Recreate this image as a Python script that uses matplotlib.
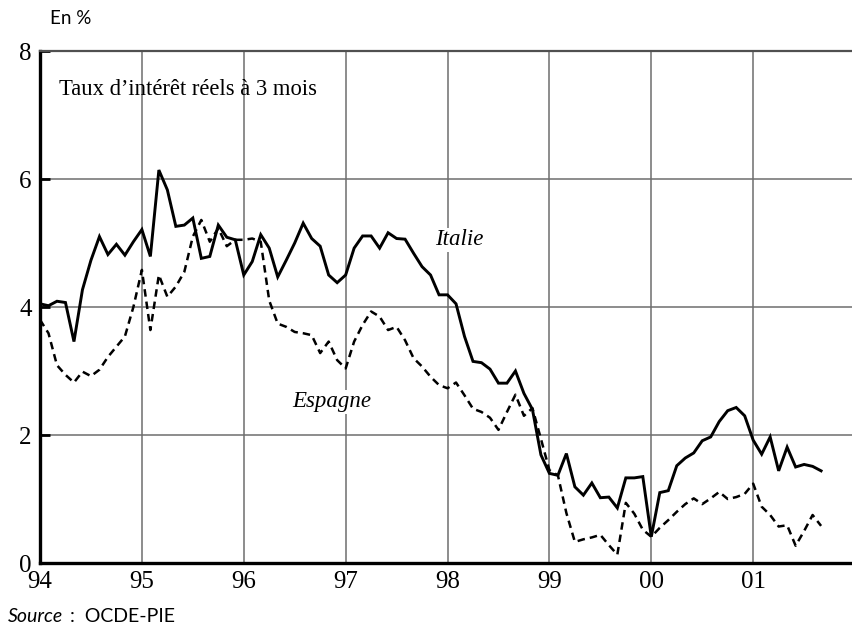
import matplotlib.pyplot as plt
import numpy as np

# monthly real 3-month interest rates, Jan 1994 .. Sep 2001 (in %)
start_year = 94
italie = [4.05, 4.02, 4.09, 4.07, 3.46, 4.27, 4.73, 5.10, 4.82, 4.98, 4.81, 5.02,
          5.21, 4.79, 6.14, 5.83, 5.26, 5.28, 5.39, 4.76, 4.79, 5.28, 5.09, 5.05,
          4.50, 4.71, 5.13, 4.92, 4.47, 4.73, 5.00, 5.31, 5.07, 4.95, 4.50, 4.38,
          4.50, 4.92, 5.11, 5.11, 4.92, 5.16, 5.07, 5.06, 4.84, 4.63, 4.50, 4.19,
          4.19, 4.05, 3.54, 3.15, 3.13, 3.03, 2.81, 2.81, 3.00, 2.65, 2.40, 1.69,
          1.40, 1.37, 1.71, 1.19, 1.06, 1.25, 1.02, 1.03, 0.86, 1.33, 1.33, 1.35,
          0.41, 1.10, 1.13, 1.52, 1.64, 1.72, 1.91, 1.97, 2.21, 2.38, 2.43, 2.30,
          1.92, 1.70, 1.97, 1.44, 1.81, 1.50, 1.54, 1.51, 1.44]
espagne = [3.80, 3.59, 3.09, 2.94, 2.82, 2.99, 2.92, 3.02, 3.22, 3.38, 3.54, 4.00,
           4.58, 3.64, 4.50, 4.16, 4.32, 4.55, 5.10, 5.36, 5.02, 5.23, 4.95, 5.05,
           5.05, 5.07, 5.02, 4.10, 3.74, 3.69, 3.61, 3.59, 3.56, 3.28, 3.46, 3.17,
           3.04, 3.46, 3.72, 3.93, 3.85, 3.64, 3.69, 3.48, 3.20, 3.07, 2.91, 2.78,
           2.73, 2.82, 2.62, 2.41, 2.36, 2.27, 2.08, 2.36, 2.63, 2.30, 2.42, 1.94,
           1.45, 1.37, 0.78, 0.33, 0.37, 0.40, 0.44, 0.28, 0.13, 0.94, 0.77, 0.52,
           0.41, 0.55, 0.67, 0.80, 0.92, 1.01, 0.92, 1.01, 1.11, 1.00, 1.03, 1.08,
           1.24, 0.88, 0.75, 0.57, 0.59, 0.27, 0.50, 0.75, 0.58]
years = [94, 95, 96, 97, 98, 99, 100, 101]
year_labels = ["94", "95", "96", "97", "98", "99", "00", "01"]
y_ticks = [0, 2, 4, 6, 8]

x = start_year + np.arange(len(italie)) / 12.0

fig = plt.figure(figsize=(8.52, 6.32), dpi=100)
ax = fig.add_axes([40 / 852, 69 / 632, 812 / 852, 512 / 632])

ax.grid(True, color="#6e6e6e", linewidth=1.1)
ax.set_axisbelow(True)

ax.plot(x, italie, color="black", linewidth=2.1, solid_joinstyle="miter")
ax.plot(x, espagne, color="black", linewidth=1.8, linestyle=(0, (3, 2)))

ax.set_xlim(94, 101.97)
ax.set_ylim(0, 8)
ax.set_xticks(years)
ax.set_xticklabels(year_labels)
ax.set_yticks(y_ticks)

serif = "Liberation Serif"
for lab in ax.get_xticklabels() + ax.get_yticklabels():
    lab.set_family(serif)
    lab.set_fontsize(18)
ax.tick_params(axis="x", length=0, pad=6)
ax.tick_params(axis="y", direction="in", length=7, width=2, color="black", pad=6)

ax.spines["left"].set_linewidth(2.4)
ax.spines["bottom"].set_linewidth(2.4)
ax.spines["top"].set_color("#505050")
ax.spines["top"].set_linewidth(1.6)
ax.spines["right"].set_visible(False)

ax.text(0.024, 0.925, "Taux d\u2019intérêt réels à 3 mois", transform=ax.transAxes,
        family=serif, fontsize=16.3, va="center", ha="left")
ax.text(97.88, 5.05, "Italie", family=serif, style="italic", fontsize=16.5,
        ha="left", va="center", bbox=dict(facecolor="white", edgecolor="none", pad=1))
ax.text(96.48, 2.52, "Espagne", family=serif, style="italic", fontsize=16.5,
        ha="left", va="center", bbox=dict(facecolor="white", edgecolor="none", pad=1))

fig.text(50 / 852, 1 - 19 / 632, "En %", family="Lato", fontsize=13.5, va="center")
fig.text(8 / 852, 1 - 617 / 632, "Source", family="Lato", style="italic",
         fontsize=14, va="center")
fig.text(70 / 852, 1 - 617 / 632, ":  OCDE-PIE", family="Lato", fontsize=14, va="center")

fig.savefig("out.png", dpi=100)
